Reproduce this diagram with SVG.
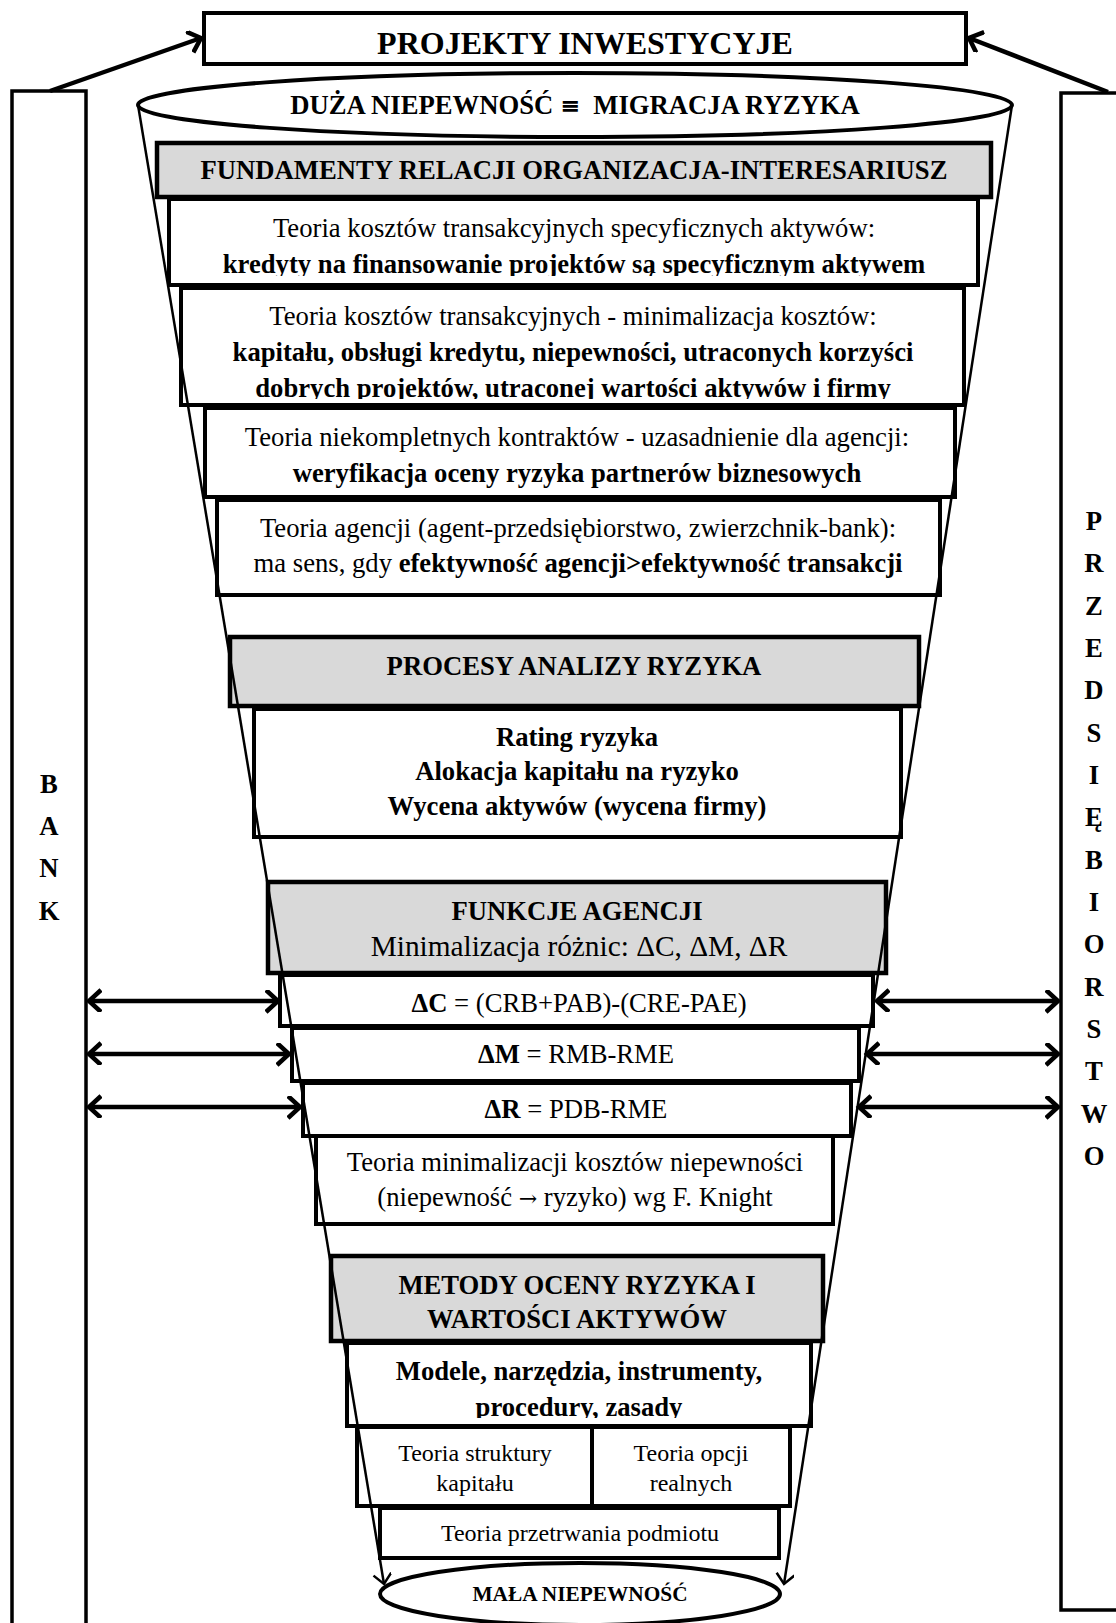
<svg xmlns="http://www.w3.org/2000/svg" width="1116" height="1623" viewBox="0 0 1116 1623">
<style>
.box{fill:#fff;stroke:#000;stroke-width:4}
.gbox{fill:#d9d9d9;stroke:#000;stroke-width:4.5}
.side{fill:#fff;stroke:#000;stroke-width:3.5}
.ell{fill:#fff;stroke:#000;stroke-width:4}
.t{font-family:"Liberation Serif","Times New Roman",serif;font-size:26.67px;text-anchor:middle;fill:#000}
.s{font-size:24px}
.b{font-weight:bold}
.sym{font-family:"DejaVu Serif","DejaVu Sans",serif}
.arr{stroke:#000;stroke-width:4.5;fill:none}
.fun{stroke:#000;stroke-width:2.5;fill:none}
</style>
<defs>
<marker id="ah" markerUnits="userSpaceOnUse" markerWidth="20" markerHeight="24" refX="13" refY="11" orient="auto-start-reverse" viewBox="0 0 20 24">
<path d="M1,0 L13,11 L1,22" fill="none" stroke="#000" stroke-width="4.5"/>
</marker>
<marker id="ahs" markerUnits="userSpaceOnUse" markerWidth="16" markerHeight="20" refX="11" refY="9" orient="auto" viewBox="0 0 16 20">
<path d="M1,0 L11,9 L1,18" fill="none" stroke="#000" stroke-width="2.5"/>
</marker>
<clipPath id="c2"><rect x="169" y="198" width="809" height="78"/></clipPath>
<clipPath id="c3"><rect x="181" y="287" width="783" height="112"/></clipPath>
<clipPath id="c14"><rect x="347" y="1343" width="464" height="75"/></clipPath>
</defs>

<g id="bank">
<rect class="side" x="12" y="91" width="74" height="1545"/>
<text class="t b" x="49" y="793">B</text>
<text class="t b" x="49" y="835">A</text>
<text class="t b" x="49" y="877">N</text>
<text class="t b" x="49" y="920">K</text>
</g>

<g id="przedsiebiorstwo">
<rect class="side" x="1061" y="93" width="80" height="1517"/>
<text class="t b" x="1094" y="530">P</text>
<text class="t b" x="1094" y="572">R</text>
<text class="t b" x="1094" y="615">Z</text>
<text class="t b" x="1094" y="657">E</text>
<text class="t b" x="1094" y="699">D</text>
<text class="t b" x="1094" y="742">S</text>
<text class="t b" x="1094" y="784">I</text>
<text class="t b" x="1094" y="826">Ę</text>
<text class="t b" x="1094" y="869">B</text>
<text class="t b" x="1094" y="911">I</text>
<text class="t b" x="1094" y="953">O</text>
<text class="t b" x="1094" y="996">R</text>
<text class="t b" x="1094" y="1038">S</text>
<text class="t b" x="1094" y="1080">T</text>
<text class="t b" x="1094" y="1123">W</text>
<text class="t b" x="1094" y="1165">O</text>
</g>

<g id="projekty">
<rect class="box" x="204" y="13" width="762" height="51" stroke-width="4.5"/>
<text class="t b" x="585" y="54" style="font-size:32px">PROJEKTY INWESTYCYJE</text>
</g>

<g id="duza">
<ellipse class="ell" cx="575" cy="105" rx="437" ry="32"/>
<text class="t b" x="575" y="114">DUŻA NIEPEWNOŚĆ <tspan class="sym" style="font-size:24px">≡</tspan>&#160; MIGRACJA RYZYKA</text>
</g>

<g id="fundamenty">
<rect class="gbox" x="157" y="143" width="834" height="54"/>
<text class="t b" x="574" y="179">FUNDAMENTY RELACJI ORGANIZACJA-INTERESARIUSZ</text>
</g>

<g id="teoria-specyficznych">
<rect class="box" x="169" y="199" width="809" height="86"/>
<g clip-path="url(#c2)">
<text class="t" x="574" y="237">Teoria kosztów transakcyjnych specyficznych aktywów:</text>
<text class="t b" x="574" y="273">kredyty na finansowanie projektów są specyficznym aktywem</text>
</g>
</g>

<g id="teoria-minimalizacja">
<rect class="box" x="181" y="288" width="783" height="117"/>
<g clip-path="url(#c3)">
<text class="t" x="573" y="325">Teoria kosztów transakcyjnych - minimalizacja kosztów:</text>
<text class="t b" x="573" y="361">kapitału, obsługi kredytu, niepewności, utraconych korzyści</text>
<text class="t b" x="573" y="397">dobrych projektów, utraconej wartości aktywów i firmy</text>
</g>
</g>

<g id="teoria-kontraktow">
<rect class="box" x="205" y="408" width="750" height="89"/>
<text class="t" x="577" y="446">Teoria niekompletnych kontraktów - uzasadnienie dla agencji:</text>
<text class="t b" x="577" y="482">weryfikacja oceny ryzyka partnerów biznesowych</text>
</g>

<g id="teoria-agencji">
<rect class="box" x="217" y="500" width="723" height="95"/>
<text class="t" x="578" y="537">Teoria agencji (agent-przedsiębiorstwo, zwierzchnik-bank):</text>
<text class="t" x="578" y="572">ma sens, gdy <tspan class="b">efektywność agencji&gt;efektywność transakcji</tspan></text>
</g>

<g id="procesy">
<rect class="gbox" x="230" y="637" width="689" height="69"/>
<text class="t b" x="574" y="675">PROCESY ANALIZY RYZYKA</text>
</g>

<g id="rating">
<rect class="box" x="254" y="709" width="647" height="128"/>
<text class="t b" x="577" y="746">Rating ryzyka</text>
<text class="t b" x="577" y="780">Alokacja kapitału na ryzyko</text>
<text class="t b" x="577" y="815">Wycena aktywów (wycena firmy)</text>
</g>

<g id="funkcje">
<rect class="gbox" x="268" y="882" width="618" height="91"/>
<text class="t b" x="577" y="920">FUNKCJE AGENCJI</text>
<text class="t" x="579" y="956" style="font-size:29.33px">Minimalizacja różnic: ΔC, ΔM, ΔR</text>
</g>

<g id="dc">
<rect class="box" x="280" y="975" width="593" height="51"/>
<text class="t" x="579" y="1012"><tspan class="b">ΔC</tspan> = (CRB+PAB)-(CRE-PAE)</text>
</g>

<g id="dm">
<rect class="box" x="292" y="1028" width="567" height="53"/>
<text class="t" x="576" y="1063"><tspan class="b">ΔM</tspan> = RMB-RME</text>
</g>

<g id="dr">
<rect class="box" x="303" y="1083" width="548" height="53"/>
<text class="t" x="576" y="1118"><tspan class="b">ΔR</tspan> = PDB-RME</text>
</g>

<g id="knight">
<rect class="box" x="316" y="1136" width="517" height="88"/>
<text class="t" x="575" y="1171">Teoria minimalizacji kosztów niepewności</text>
<text class="t" x="575" y="1206">(niepewność <tspan class="sym" style="font-size:22px">→</tspan> ryzyko) wg F. Knight</text>
</g>

<g id="metody">
<rect class="gbox" x="331" y="1256" width="492" height="85"/>
<text class="t b" x="577" y="1294">METODY OCENY RYZYKA I</text>
<text class="t b" x="577" y="1328">WARTOŚCI AKTYWÓW</text>
</g>

<g id="modele">
<rect class="box" x="347" y="1343" width="464" height="83"/>
<g clip-path="url(#c14)">
<text class="t b" x="579" y="1380">Modele, narzędzia, instrumenty,</text>
<text class="t b" x="579" y="1416">procedury, zasady</text>
</g>
</g>

<g id="struktura">
<rect class="box" x="357" y="1427" width="235" height="79"/>
<text class="t s" x="475" y="1461">Teoria struktury</text>
<text class="t s" x="475" y="1491">kapitału</text>
</g>

<g id="opcje">
<rect class="box" x="592" y="1427" width="198" height="79"/>
<text class="t s" x="691" y="1461">Teoria opcji</text>
<text class="t s" x="691" y="1491">realnych</text>
</g>

<g id="przetrwanie">
<rect class="box" x="380" y="1508" width="399" height="50"/>
<text class="t s" x="580" y="1541">Teoria przetrwania podmiotu</text>
</g>

<g id="mala">
<ellipse class="ell" cx="580" cy="1594" rx="200" ry="31"/>
<text class="t b" x="580" y="1601" style="font-size:21.33px">MAŁA NIEPEWNOŚĆ</text>
</g>

<g id="connectors">
<line class="arr" x1="50" y1="91" x2="201" y2="38" marker-end="url(#ah)"/>
<line class="arr" x1="1108" y1="92" x2="969" y2="38" marker-end="url(#ah)"/>
<line class="fun" x1="138" y1="105" x2="384" y2="1584" marker-end="url(#ahs)"/>
<line class="fun" x1="1012" y1="105" x2="784" y2="1584" marker-end="url(#ahs)"/>
<line class="arr" x1="89" y1="1001" x2="278" y2="1001" marker-start="url(#ah)" marker-end="url(#ah)"/>
<line class="arr" x1="89" y1="1054" x2="289" y2="1054" marker-start="url(#ah)" marker-end="url(#ah)"/>
<line class="arr" x1="89" y1="1107" x2="300" y2="1107" marker-start="url(#ah)" marker-end="url(#ah)"/>
<line class="arr" x1="877" y1="1001" x2="1058" y2="1001" marker-start="url(#ah)" marker-end="url(#ah)"/>
<line class="arr" x1="867" y1="1054" x2="1058" y2="1054" marker-start="url(#ah)" marker-end="url(#ah)"/>
<line class="arr" x1="859" y1="1107" x2="1058" y2="1107" marker-start="url(#ah)" marker-end="url(#ah)"/>
</g>
</svg>
